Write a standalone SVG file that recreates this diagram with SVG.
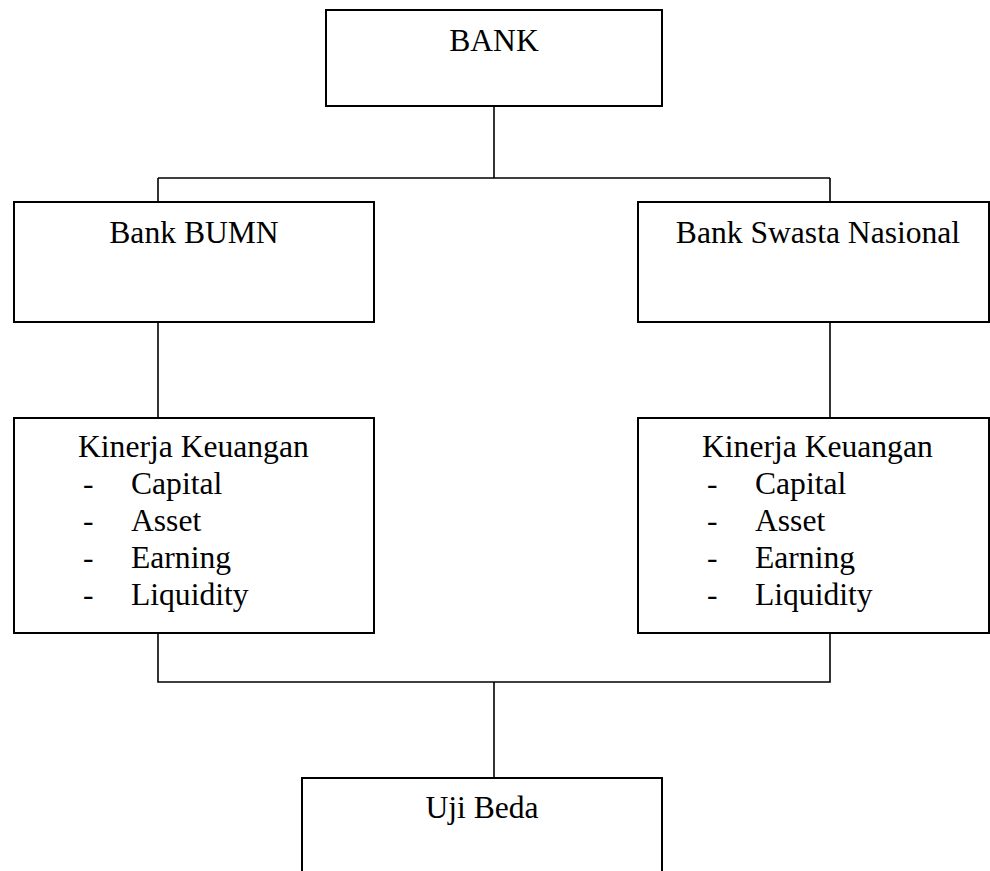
<svg xmlns="http://www.w3.org/2000/svg" width="990" height="871" viewBox="0 0 990 871">
<style>
.box{fill:#fff;stroke:#000;stroke-width:2}
.ln{fill:none;stroke:#000;stroke-width:1.6}
text{font-family:"Liberation Serif","Times New Roman",serif;font-size:31.6px;fill:#000}
.c{text-anchor:middle}
</style>
<rect width="990" height="871" fill="#fff"/>
<g id="connectors">
<path class="ln" d="M494 106V178M158 178H830M158 178V202M830 178V202"/>
<path class="ln" d="M158 322V418M830 322V418"/>
<path class="ln" d="M158 633V682H830V633M494 682V778"/>
</g>
<g id="bank">
<rect class="box" x="326" y="10" width="336" height="96"/>
<text class="c" x="494" y="51">BANK</text>
</g>
<g id="bumn">
<rect class="box" x="14" y="202" width="360" height="120"/>
<text class="c" x="194" y="243">Bank BUMN</text>
</g>
<g id="swasta">
<rect class="box" x="638" y="202" width="351" height="120"/>
<text class="c" x="818" y="243">Bank Swasta Nasional</text>
</g>
<g id="kinerja-bumn">
<rect class="box" x="14" y="418" width="360" height="215"/>
<text x="78" y="457">Kinerja Keuangan</text>
<text x="83" y="494">-</text><text x="131" y="494">Capital</text>
<text x="83" y="531">-</text><text x="131" y="531">Asset</text>
<text x="83" y="568">-</text><text x="131" y="568">Earning</text>
<text x="83" y="605">-</text><text x="131" y="605">Liquidity</text>
</g>
<g id="kinerja-swasta">
<rect class="box" x="638" y="418" width="351" height="215"/>
<text x="702" y="457">Kinerja Keuangan</text>
<text x="707" y="494">-</text><text x="755" y="494">Capital</text>
<text x="707" y="531">-</text><text x="755" y="531">Asset</text>
<text x="707" y="568">-</text><text x="755" y="568">Earning</text>
<text x="707" y="605">-</text><text x="755" y="605">Liquidity</text>
</g>
<g id="uji-beda">
<rect class="box" x="302" y="778" width="360" height="120"/>
<text class="c" x="482" y="818">Uji Beda</text>
</g>
</svg>
